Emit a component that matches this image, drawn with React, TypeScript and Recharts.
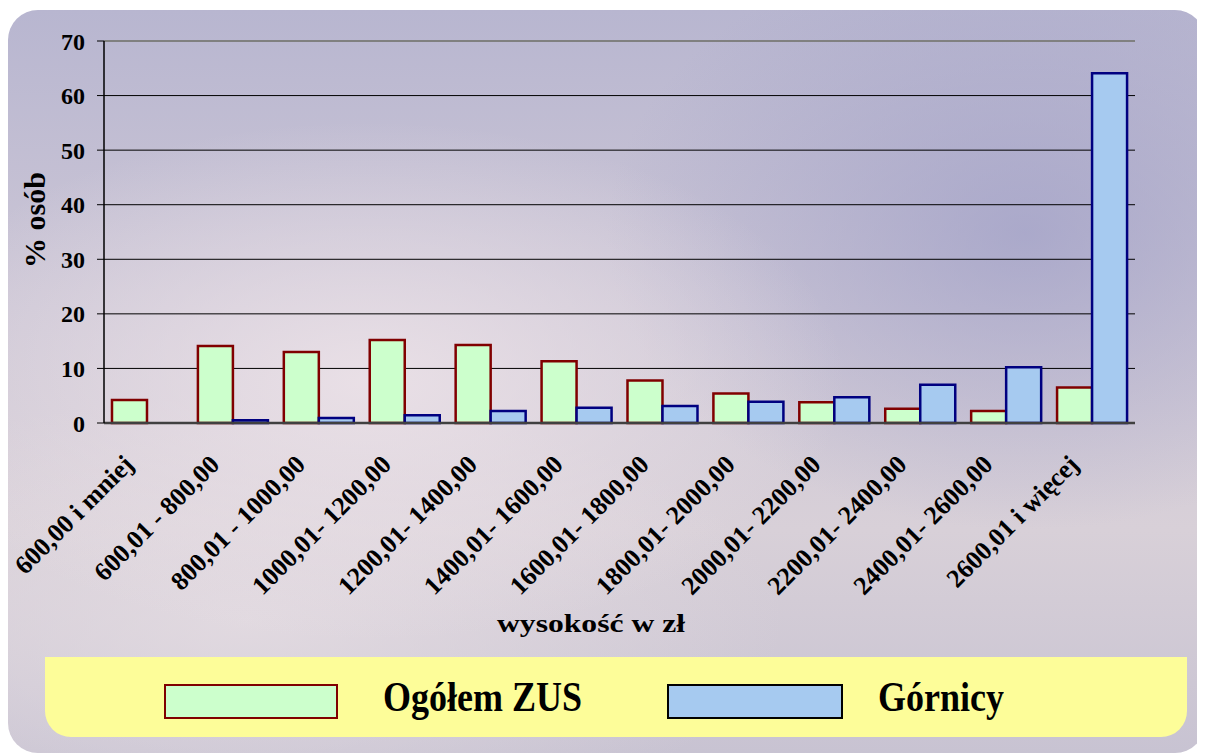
import { BarChart, Bar, XAxis, YAxis, CartesianGrid, ReferenceLine, Label } from 'recharts';

const categories = [
  '600,00 i mniej',
  '600,01 - 800,00',
  '800,01 - 1000,00',
  '1000,01- 1200,00',
  '1200,01- 1400,00',
  '1400,01- 1600,00',
  '1600,01- 1800,00',
  '1800,01- 2000,00',
  '2000,01- 2200,00',
  '2200,01- 2400,00',
  '2400,01- 2600,00',
  '2600,01 i więcej',
];

const zusValues = [4.2, 14.1, 13.0, 15.2, 14.3, 11.3, 7.8, 5.4, 3.8, 2.6, 2.2, 6.5];
const gornicyValues = [0, 0.5, 0.9, 1.4, 2.2, 2.8, 3.1, 3.9, 4.7, 7.0, 10.2, 64.1];
const yTicks = [0, 10, 20, 30, 40, 50, 60, 70];

const data = categories.map((name, i) => ({
  name,
  zus: zusValues[i],
  gornicy: gornicyValues[i],
}));

const FONT = '"Liberation Serif", "Times New Roman", serif';

const XTick = ({ x, y, payload }: any) => (
  <g transform={`translate(${x - 12},${y + 43})`}>
    <text
      x={0}
      y={0}
      textAnchor="end"
      transform="rotate(-45)"
      fontFamily={FONT}
      fontWeight="bold"
      fontSize={26}
      fill="#000"
    >
      {payload.value}
    </text>
  </g>
);

const legendText = {
  position: 'absolute' as const,
  top: 18,
  lineHeight: '44px',
  whiteSpace: 'nowrap' as const,
  transform: 'scaleY(1.2)',
};

export default function App() {
  return (
    <div style={{ paddingTop: 2 }}>
      <div
        style={{
          position: 'relative',
          width: 1197,
          height: 743,
          borderRadius: 30,
          overflow: 'hidden',
          background:
            'radial-gradient(ellipse 40% 35% at 30% 50%, rgba(236,226,232,0.9), rgba(236,226,232,0)), ' +
            'radial-gradient(ellipse 35% 40% at 85% 30%, rgba(158,158,198,0.7), rgba(158,158,198,0)), ' +
            'radial-gradient(ellipse 45% 30% at 20% 82%, rgba(228,220,226,0.85), rgba(228,220,226,0)), ' +
            'linear-gradient(180deg, #b8b6d0 0%, #cdc7d6 40%, #d8d0d8 70%, #c8c3d2 100%)',
        }}
      >
        <BarChart
          width={1192}
          height={640}
          data={data}
          margin={{ top: 31, right: 65, left: 0, bottom: 0 }}
          barCategoryGap="9.3%"
          barGap={0}
        >
          <CartesianGrid vertical={false} stroke="#000" strokeWidth={1} />
          <XAxis
            dataKey="name"
            height={227}
            interval={0}
            tick={<XTick />}
            tickLine={false}
            tickSize={0}
            tickMargin={0}
            axisLine={{ stroke: '#404040', strokeWidth: 2.5 }}
          >
            <Label
              content={() => (
                <text
                  x={583}
                  y={622}
                  textAnchor="middle"
                  fontFamily={FONT}
                  fontWeight="bold"
                  fontSize={25}
                  textLength={188}
                  lengthAdjust="spacingAndGlyphs"
                  fill="#000"
                >
                  wysokość w zł
                </text>
              )}
            />
          </XAxis>
          <YAxis
            width={96}
            domain={[0, 70]}
            ticks={yTicks}
            interval={0}
            tickSize={7}
            tickMargin={12}
            tickLine={{ stroke: '#000' }}
            axisLine={{ stroke: '#000', strokeWidth: 1.5 }}
            tick={{ fontFamily: FONT, fontWeight: 'bold', fontSize: 24, fill: '#000' }}
          >
            <Label
              content={() => (
                <text
                  x={0}
                  y={0}
                  transform="translate(37,210) rotate(-90)"
                  textAnchor="middle"
                  fontFamily={FONT}
                  fontWeight="bold"
                  fontSize={30}
                  fill="#000"
                >
                  % osób
                </text>
              )}
            />
          </YAxis>
          <YAxis
            yAxisId="frame"
            orientation="right"
            width={0}
            domain={[0, 70]}
            tick={false}
            tickLine={false}
            axisLine={{ stroke: '#808080', strokeWidth: 2 }}
          />
          <ReferenceLine y={70} stroke="#808080" strokeWidth={2} />
          <Bar
            dataKey="zus"
            name="Ogółem ZUS"
            fill="#ccffcc"
            stroke="#800000"
            strokeWidth={2.5}
            isAnimationActive={false}
          />
          <Bar
            dataKey="gornicy"
            name="Górnicy"
            fill="#a6caf0"
            stroke="#000080"
            strokeWidth={2.5}
            isAnimationActive={false}
          />
        </BarChart>
        <div
          style={{
            position: 'absolute',
            left: 37,
            top: 647,
            width: 1142,
            height: 80,
            background: '#fdfd99',
            borderRadius: '0 0 26px 26px',
            fontFamily: FONT,
            fontWeight: 'bold',
            fontSize: 36,
            color: '#000',
          }}
        >
          <div
            style={{
              position: 'absolute',
              left: 119,
              top: 27,
              width: 170,
              height: 31,
              background: '#ccffcc',
              border: '2px solid #800000',
            }}
          />
          <div style={{ ...legendText, left: 338 }}>Ogółem ZUS</div>
          <div
            style={{
              position: 'absolute',
              left: 622,
              top: 27,
              width: 172,
              height: 31,
              background: '#a6caf0',
              border: '2px solid #000',
            }}
          />
          <div style={{ ...legendText, left: 833 }}>Górnicy</div>
        </div>
      </div>
    </div>
  );
}
